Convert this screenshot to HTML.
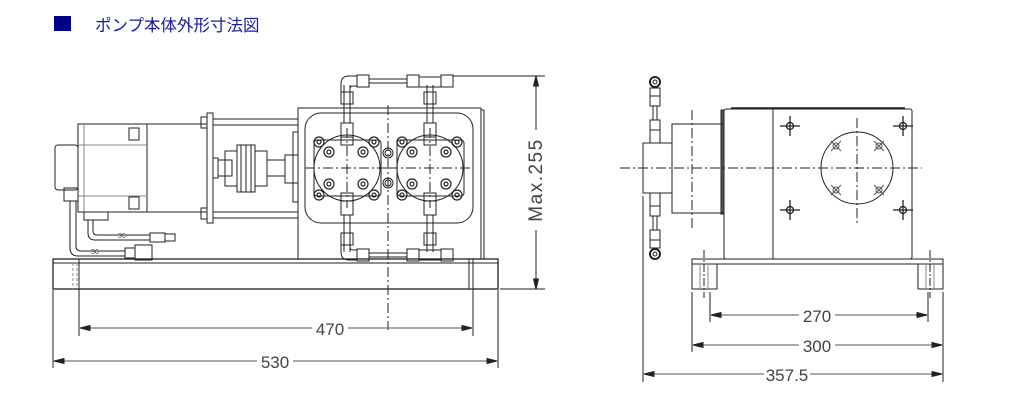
<!DOCTYPE html>
<html><head><meta charset="utf-8"><style>
html,body{margin:0;padding:0;background:#fff;}
svg{display:block}
</style></head><body>
<svg width="1018" height="414" viewBox="0 0 1018 414" xmlns="http://www.w3.org/2000/svg" font-family="Liberation Sans, sans-serif">
<rect x="54" y="16" width="17" height="15" fill="#00008b"/>
<text x="95" y="31" font-size="16.5" fill="#1a1aa0" font-family="Liberation Sans, Noto Sans CJK JP, sans-serif">ポンプ本体外形寸法図</text>

<g fill="none" stroke="#222" stroke-width="1">
<rect x="53" y="259" width="445" height="30" stroke-width="1.3"/>
<line x1="53" y1="263" x2="498" y2="263"/>
<line x1="73" y1="263" x2="73" y2="289" stroke="#888" stroke-dasharray="3,2"/>
<line x1="77" y1="263" x2="77" y2="289" stroke="#888" stroke-dasharray="3,2"/>
<line x1="469" y1="259" x2="469" y2="289"/><line x1="473" y1="259" x2="473" y2="289"/>
<rect x="298" y="108" width="183" height="151"/>
<line x1="481" y1="110" x2="484" y2="110"/><line x1="484" y1="110" x2="484" y2="259"/>
<rect x="305" y="113" width="168" height="110" rx="16"/>
<g id="head">
<circle cx="347" cy="168" r="33"/>
<rect x="314" y="140" width="67" height="56" rx="3"/>
<line x1="305" y1="168" x2="389" y2="168" stroke-dasharray="10,3,2,3"/>
<line x1="347" y1="128" x2="347" y2="208" stroke-dasharray="10,3,2,3"/>
<g stroke-width="1.2">
<circle cx="319" cy="142" r="5"/><circle cx="374" cy="142" r="5"/>
<circle cx="319" cy="195" r="5"/><circle cx="374" cy="195" r="5"/>
<circle cx="329" cy="152" r="5"/><circle cx="363" cy="152" r="5"/>
<circle cx="329" cy="184" r="5"/><circle cx="363" cy="184" r="5"/>
<circle cx="319" cy="142" r="2"/><circle cx="374" cy="142" r="2"/>
<circle cx="319" cy="195" r="2"/><circle cx="374" cy="195" r="2"/>
<circle cx="329" cy="152" r="2"/><circle cx="363" cy="152" r="2"/>
<circle cx="329" cy="184" r="2"/><circle cx="363" cy="184" r="2"/>
</g>
<rect x="341" y="123" width="12" height="14"/><rect x="341" y="137" width="12" height="8"/>
<rect x="341" y="193" width="12" height="8"/><rect x="341" y="201" width="12" height="14"/>
</g>
<use href="#head" x="83"/>
<line x1="388" y1="105" x2="388" y2="330" stroke-dasharray="10,3,2,3"/>
<circle cx="388" cy="153" r="5"/><circle cx="388" cy="153" r="3"/>
<circle cx="388" cy="183" r="5"/><circle cx="388" cy="183" r="3"/>
<line x1="344" y1="85" x2="344" y2="123"/><line x1="350" y1="85" x2="350" y2="123"/>
<line x1="427" y1="85" x2="427" y2="123"/><line x1="433" y1="85" x2="433" y2="123"/>
<line x1="344" y1="215" x2="344" y2="252"/><line x1="350" y1="215" x2="350" y2="252"/>
<line x1="427" y1="215" x2="427" y2="252"/><line x1="433" y1="215" x2="433" y2="252"/>
<rect x="341" y="92" width="12" height="12"/><rect x="424" y="92" width="12" height="12"/>
<rect x="341" y="233" width="12" height="12"/><rect x="424" y="233" width="12" height="12"/>
<path d="M341 92 L341 84 Q341 76 349 76 L357 76 L357 86 L353 86 Q350 86 350 89 L350 92"/>
<rect x="357" y="75" width="12" height="12"/><rect x="407" y="75" width="12" height="12"/>
<line x1="369" y1="79" x2="407" y2="79"/><line x1="369" y1="83" x2="407" y2="83"/>
<rect x="419" y="77" width="22" height="10"/><rect x="441" y="75" width="12" height="12"/>
<line x1="427" y1="87" x2="427" y2="92"/><line x1="433" y1="87" x2="433" y2="92"/>
<path d="M341 245 L341 252 Q341 260 349 260 L357 260 L357 250 L353 250 Q350 250 350 247"/>
<rect x="357" y="249" width="12" height="12"/><rect x="407" y="249" width="12" height="12"/>
<line x1="369" y1="253" x2="407" y2="253"/><line x1="369" y1="257" x2="407" y2="257"/>
<rect x="419" y="250" width="22" height="10"/><rect x="441" y="249" width="12" height="12"/>
<rect x="78" y="124" width="129" height="88"/>
<line x1="147" y1="124" x2="147" y2="212"/>
<line x1="78" y1="145" x2="147" y2="145" stroke="#888"/><line x1="78" y1="196" x2="147" y2="196" stroke="#888"/>
<line x1="84" y1="124" x2="84" y2="212" stroke="#888"/>
<rect x="129" y="128" width="10" height="12"/><rect x="129" y="197" width="10" height="12"/>
<rect x="55" y="145" width="23" height="45" rx="3"/>
<rect x="64" y="188" width="14" height="13"/>
<rect x="84" y="212" width="24" height="8"/>
<path d="M70 201 L70 248 Q70 256 78 256 L125 256"/><path d="M76 201 L76 246 Q76 251 81 251 L125 251"/>
<path d="M88 220 L88 233 Q88 240 95 240 L150 240"/><path d="M93 220 L93 231 Q93 235 97 235 L150 235"/>
<rect x="150" y="233" width="15" height="9"/><rect x="165" y="234" width="10" height="7"/>
<rect x="125" y="248" width="10" height="10"/><rect x="135" y="245" width="17" height="15"/>
<text x="118" y="238" font-size="7" fill="#444" stroke="none">36</text>
<text x="91" y="254" font-size="7" fill="#444" stroke="none">36</text>
<rect x="207" y="113" width="6" height="110"/>
<rect x="201" y="117" width="6" height="11"/><rect x="201" y="208" width="6" height="11"/>
<line x1="213" y1="119" x2="298" y2="119"/><line x1="213" y1="125" x2="298" y2="125"/>
<line x1="213" y1="212" x2="298" y2="212"/><line x1="213" y1="218" x2="298" y2="218"/>
<rect x="213" y="158" width="5" height="20"/>
<rect x="218" y="160" width="14" height="16"/>
<rect x="225" y="151" width="12" height="35"/>
<rect x="237" y="145" width="18" height="47"/>
<line x1="241" y1="145" x2="241" y2="192"/><line x1="246" y1="145" x2="246" y2="192"/><line x1="251" y1="145" x2="251" y2="192"/>
<rect x="255" y="151" width="12" height="35"/>
<rect x="267" y="160" width="18" height="16"/>
<rect x="285" y="155" width="13" height="28"/>
<rect x="293" y="132" width="5" height="70"/>
<line x1="453" y1="76" x2="545" y2="76"/>
<line x1="500" y1="289" x2="545" y2="289"/>
<line x1="536" y1="77" x2="536" y2="288"/>
<path d="M536 76 l-2.5 10 h5z M536 289 l-2.5 -10 h5z" fill="#222"/>
<rect x="529" y="130" width="14" height="100" fill="#fff" stroke="none"/>
<text transform="translate(542,180) rotate(-90)" font-size="19" fill="#444" stroke="none" text-anchor="middle" letter-spacing="1.5">Max.255</text>
<line x1="79" y1="259" x2="79" y2="336"/><line x1="473" y1="259" x2="473" y2="336"/>
<line x1="53" y1="290" x2="53" y2="368"/><line x1="498" y1="290" x2="498" y2="368"/>
<line x1="80" y1="328" x2="472" y2="328" stroke="#555"/>
<line x1="54" y1="361" x2="497" y2="361" stroke="#555"/>
<path d="M80 328 l10 -2.5 v5z M472 328 l-10 -2.5 v5z M54 361 l10 -2.5 v5z M497 361 l-10 -2.5 v5z" fill="#222"/>
<rect x="312" y="318" width="36" height="20" fill="#fff" stroke="none"/>
<rect x="257" y="351" width="36" height="20" fill="#fff" stroke="none"/>
<text x="330" y="335" font-size="17" fill="#444" stroke="none" text-anchor="middle">470</text>
<text x="275" y="368" font-size="17" fill="#444" stroke="none" text-anchor="middle">530</text>

<rect x="724" y="109" width="188" height="150" rx="2"/>
<line x1="731" y1="108" x2="905" y2="108" stroke-width="1.5"/>
<rect x="721" y="110" width="3" height="104" fill="#555"/>
<line x1="773" y1="109" x2="773" y2="259"/>
<rect x="672" y="124" width="52" height="89"/>
<rect x="643" y="143" width="29" height="50"/>
<line x1="620" y1="168" x2="922" y2="168" stroke-dasharray="10,3,2,3"/>
<line x1="692" y1="110" x2="692" y2="228" stroke-dasharray="10,3,2,3"/>
<line x1="857" y1="118" x2="857" y2="225" stroke-dasharray="10,3,2,3"/>
<circle cx="857" cy="168" r="36"/>
<g stroke-width="1.3">
<circle cx="790" cy="126" r="3.5"/><circle cx="903" cy="126" r="3.5"/>
<circle cx="790" cy="210" r="3.5"/><circle cx="903" cy="210" r="3.5"/>
<path d="M780 126h20M790 116v20M893 126h20M903 116v20M780 210h20M790 200v20M893 210h20M903 200v20"/>
</g>
<g stroke="#555">
<circle cx="836" cy="146" r="3"/><circle cx="879" cy="146" r="3"/><circle cx="836" cy="190" r="3"/><circle cx="879" cy="190" r="3"/>
<path d="M831 141l10 10M841 141l-10 10M874 141l10 10M884 141l-10 10M831 185l10 10M841 185l-10 10M874 185l10 10M884 185l-10 10"/>
</g>
<circle cx="655" cy="82" r="5" stroke-width="2"/><circle cx="655" cy="82" r="2"/>
<circle cx="655" cy="254" r="5" stroke-width="2"/><circle cx="655" cy="254" r="2"/>
<rect x="650" y="88" width="10" height="8"/><rect x="650" y="96" width="10" height="10"/>
<line x1="653" y1="106" x2="653" y2="120"/><line x1="657" y1="106" x2="657" y2="120"/>
<rect x="650" y="120" width="10" height="10"/><rect x="650" y="130" width="10" height="13"/>
<rect x="650" y="193" width="10" height="13"/><rect x="650" y="206" width="10" height="10"/>
<line x1="653" y1="216" x2="653" y2="230"/><line x1="657" y1="216" x2="657" y2="230"/>
<rect x="650" y="230" width="10" height="10"/><rect x="650" y="240" width="10" height="8"/>
<rect x="692" y="259" width="251" height="5"/>
<rect x="692" y="264" width="25" height="25"/><rect x="918" y="264" width="25" height="25"/>
<line x1="704" y1="250" x2="704" y2="298" stroke-dasharray="8,2,2,2"/>
<line x1="930" y1="250" x2="930" y2="298" stroke-dasharray="8,2,2,2"/>
<line x1="700" y1="264" x2="700" y2="289" stroke="#888"/><line x1="708" y1="264" x2="708" y2="289" stroke="#888"/>
<line x1="926" y1="264" x2="926" y2="289" stroke="#888"/><line x1="934" y1="264" x2="934" y2="289" stroke="#888"/>
<line x1="710" y1="292" x2="710" y2="322"/><line x1="928" y1="292" x2="928" y2="322"/>
<line x1="692" y1="292" x2="692" y2="352"/><line x1="943" y1="292" x2="943" y2="382"/>
<line x1="643" y1="196" x2="643" y2="382"/>
<line x1="711" y1="315" x2="927" y2="315" stroke="#555"/>
<line x1="693" y1="345" x2="942" y2="345" stroke="#555"/>
<line x1="644" y1="374" x2="942" y2="374" stroke="#555"/>
<path d="M711 315 l10 -2.5 v5z M927 315 l-10 -2.5 v5z M693 345 l10 -2.5 v5z M942 345 l-10 -2.5 v5z M644 374 l10 -2.5 v5z M942 374 l-10 -2.5 v5z" fill="#222"/>
<rect x="799" y="305" width="36" height="20" fill="#fff" stroke="none"/>
<rect x="799" y="335" width="36" height="20" fill="#fff" stroke="none"/>
<rect x="764" y="364" width="46" height="20" fill="#fff" stroke="none"/>
<text x="817" y="322" font-size="17" fill="#444" stroke="none" text-anchor="middle">270</text>
<text x="817" y="352" font-size="17" fill="#444" stroke="none" text-anchor="middle">300</text>
<text x="787" y="381" font-size="17" fill="#444" stroke="none" text-anchor="middle">357.5</text>
</g>
</svg>
</body></html>
